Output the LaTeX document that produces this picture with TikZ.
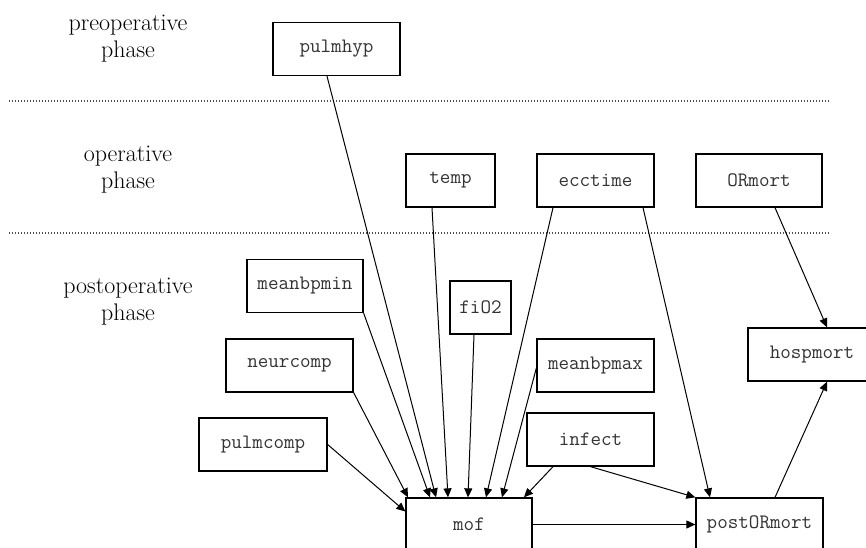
\documentclass[tikz,border=0pt]{standalone}
\usetikzlibrary{arrows.meta}

\tikzset{
  var/.style={draw, line width=1.3pt, rectangle, minimum height=53pt,
    inner sep=0pt, font=\ttfamily\fontsize{20.5}{24}\selectfont, text=black!80},
  phase/.style={align=center, font=\fontsize{24}{27}\selectfont},
  sep/.style={line width=1.1pt, dash pattern=on 1.4pt off 1.6pt, black!70},
  dep/.style={line width=1pt, -{Triangle[length=9pt,width=8pt]}}
}

\begin{document}
\begin{tikzpicture}[x=1pt, y=-1pt]
\useasboundingbox (0,0) rectangle (866,547);
\clip (0,0) rectangle (866,547);

% phase labels and separators
\node[phase] (pre)  at (128,39)  {preoperative\\phase};
\node[phase] (op)   at (128,170) {operative\\phase};
\node[phase] (post) at (128,302) {postoperative\\phase};
\coordinate (s1a) at (9,101);  \coordinate (s1b) at (829,101);
\coordinate (s2a) at (9,233);  \coordinate (s2b) at (829,233);
\draw[sep] (s1a) -- (s1b);
\draw[sep] (s2a) -- (s2b);

% variables
\node[var, minimum width=127pt] (pulmhyp)   at (336.5,49)  {pulmhyp};
\node[var, minimum width=89pt]  (temp)      at (450.5,180.5) {temp};
\node[var, minimum width=117pt] (ecctime)   at (595.5,180.5) {ecctime};
\node[var, minimum width=126pt] (ORmort)    at (759,180.5) {ORmort};
\node[var, minimum width=116pt] (meanbpmin) at (305,286)   {meanbpmin};
\node[var, minimum width=61pt]  (fiO2)      at (480.5,307.5) {fiO2};
\node[var, minimum width=127pt] (neurcomp)  at (289.5,365.5) {neurcomp};
\node[var, minimum width=117pt] (meanbpmax) at (595.5,365.5) {meanbpmax};
\node[var, minimum width=128pt] (pulmcomp)  at (263,444.5) {pulmcomp};
\node[var, minimum width=127pt] (infect)    at (590.5,439.5) {infect};
\node[var, minimum width=128pt] (hospmort)  at (812,354.5) {hospmort};
\node[var, minimum width=126pt] (mof)       at (469,524.5) {mof};
\node[var, minimum width=127pt] (postORmort) at (759.5,524.5) {postORmort};

% dependencies into mof
\draw[dep] (pulmcomp.east) -- ([yshift=13pt]mof.west);
\draw[dep] (neurcomp.south east) -- ([xshift=-61pt]mof.north);
\draw[dep] (meanbpmin.south east) -- ([xshift=-39pt]mof.north);
\draw[dep] ([xshift=-9.5pt]pulmhyp.south) -- ([xshift=-33pt]mof.north);
\draw[dep] ([xshift=-18.5pt]temp.south) -- ([xshift=-21pt]mof.north);
\draw[dep] ([xshift=-6.5pt]fiO2.south) -- ([xshift=-1pt]mof.north);
\draw[dep] ([xshift=-42.5pt]ecctime.south) -- ([xshift=17pt]mof.north);
\draw[dep] ([yshift=-2.5pt]meanbpmax.west) -- ([xshift=33pt]mof.north);
\draw[dep] ([xshift=-37.5pt]infect.south) -- ([xshift=55pt]mof.north);

% dependencies into postORmort and hospmort
\draw[dep] (infect.south) -- (postORmort.north west);
\draw[dep] ([xshift=47.5pt]ecctime.south) -- ([xshift=-49.5pt]postORmort.north);
\draw[dep] (mof.east) -- (postORmort.west);
\draw[dep] ([xshift=16pt]ORmort.south) -- ([xshift=15pt]hospmort.north);
\draw[dep] ([xshift=15.5pt]postORmort.north) -- ([xshift=15pt]hospmort.south);
\end{tikzpicture}
\end{document}
